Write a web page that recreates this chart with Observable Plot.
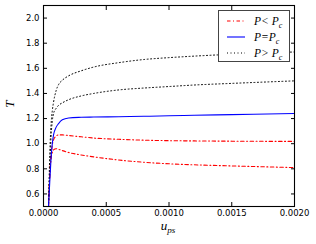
<!DOCTYPE html>
<html>
<head>
<meta charset="utf-8">
<script src="https://cdn.jsdelivr.net/npm/d3@7"></script>
<script src="https://cdn.jsdelivr.net/npm/@observablehq/plot@0.6"></script>
<style>
  html, body { margin: 0; padding: 0; background: #fff; }
  #wrap { position: relative; width: 316px; height: 244px; overflow: hidden; }
  .math { font-family: "Liberation Serif", "DejaVu Serif", serif; font-style: italic; color: #000; }
  #ylab { position: absolute; left: 4px; top: 97px; font-size: 13px; transform: rotate(-90deg); transform-origin: center; width: 12px; text-align: center; line-height: 14px; }
  #xlab { position: absolute; left: 148px; width: 40px; top: 219px; font-size: 13px; text-align: center; line-height: 14px; }
  #xlab sub, .leg sub { font-size: 0.7em; vertical-align: -0.35em; line-height: 0; }
  #legend { position: absolute; left: 218px; top: 10px; width: 70px; height: 50px; border: 1.3px solid #444; background: #fff; box-sizing: content-box; }
  .leg { position: absolute; left: 0; width: 70px; height: 14px; }
  .leg svg { position: absolute; left: 8px; top: 0; }
  .leg span { position: absolute; left: 35px; top: 0; font-size: 11.5px; line-height: 14px; white-space: nowrap; }
</style>
</head>
<body>
<div id="wrap"></div>
<script>
// ---- data ----
const u = [0.00004, 0.00005, 0.00006, 0.00007, 0.00008, 0.0001, 0.00012, 0.00015, 0.0002, 0.0003, 0.0004, 0.0006, 0.0008, 0.001, 0.0012, 0.0015, 0.002];
const T_below_hi = [0.5, 0.75, 0.9, 0.99, 1.03, 1.06, 1.07, 1.07, 1.065, 1.055, 1.045, 1.035, 1.028, 1.024, 1.022, 1.02, 1.018];
const T_below_lo = [0.5, 0.75, 0.88, 0.93, 0.95, 0.96, 0.955, 0.945, 0.93, 0.91, 0.895, 0.87, 0.852, 0.84, 0.832, 0.823, 0.81];
const T_crit     = [0.5, 0.7, 0.88, 1.0, 1.07, 1.13, 1.16, 1.19, 1.205, 1.21, 1.212, 1.215, 1.218, 1.222, 1.226, 1.231, 1.24];
const T_above_lo = [0.5, 0.8, 1.05, 1.18, 1.24, 1.28, 1.305, 1.325, 1.35, 1.38, 1.4, 1.428, 1.443, 1.455, 1.467, 1.48, 1.5];
const T_above_hi = [0.5, 0.92, 1.15, 1.26, 1.33, 1.42, 1.47, 1.505, 1.54, 1.58, 1.61, 1.645, 1.67, 1.685, 1.697, 1.712, 1.73];
const xTicks = [0, 0.0005, 0.001, 0.0015, 0.002];
const yTicks = [0.6, 0.8, 1.0, 1.2, 1.4, 1.6, 1.8, 2.0];

const toRows = (vals) => u.map((x, i) => ({u: x, T: vals[i]}));
const redStyle = {stroke: "#ff0000", strokeWidth: 1.1, strokeDasharray: "3.5,2.5,1,2.5"};
const blkStyle = {stroke: "#000", strokeWidth: 1, strokeDasharray: "1,2.5"};
const bluStyle = {stroke: "#0000ff", strokeWidth: 1.1};
const common = {x: "u", y: "T", curve: "monotone-x", clip: true};

const chart = Plot.plot({
  width: 316,
  height: 244,
  marginLeft: 43,
  marginRight: 22,
  marginTop: 5,
  marginBottom: 38,
  style: {fontFamily: "'DejaVu Sans', sans-serif", fontSize: "8.5px", background: "#fff", color: "#000"},
  x: {domain: [0, 0.002]},
  y: {domain: [0.5, 2.1]},
  marks: [
    Plot.line(toRows(T_below_hi), {...common, ...redStyle}),
    Plot.line(toRows(T_below_lo), {...common, ...redStyle}),
    Plot.line(toRows(T_above_lo), {...common, ...blkStyle}),
    Plot.line(toRows(T_above_hi), {...common, ...blkStyle}),
    Plot.line(toRows(T_crit), {...common, ...bluStyle}),
    Plot.axisY({ticks: yTicks, tickSize: -4, tickPadding: 8, tickFormat: d3.format(".1f"), label: null}),
    Plot.axisY({anchor: "right", ticks: yTicks, tickSize: -4, tickFormat: () => "", label: null}),
    Plot.axisX({ticks: xTicks, tickSize: -4, tickPadding: 7, tickFormat: d3.format(".4f"), label: null}),
    Plot.axisX({anchor: "top", ticks: xTicks, tickSize: -4, tickFormat: () => "", label: null}),
    Plot.frame({stroke: "#000", strokeWidth: 1.1})
  ]
});

const wrap = document.getElementById("wrap");
wrap.appendChild(chart);

const ylab = document.createElement("div");
ylab.id = "ylab"; ylab.className = "math"; ylab.textContent = "T";
wrap.appendChild(ylab);

const xlab = document.createElement("div");
xlab.id = "xlab"; xlab.className = "math"; xlab.innerHTML = "u<sub>ps</sub>";
wrap.appendChild(xlab);

const legendItems = [
  {label: "P&lt; P<sub>c</sub>", stroke: "#ff0000", dash: "3.5,2.5,1,2.5", w: 1.1},
  {label: "P=P<sub>c</sub>", stroke: "#0000ff", dash: null, w: 1.1},
  {label: "P&gt; P<sub>c</sub>", stroke: "#000", dash: "1,2.5", w: 1}
];
const legend = document.createElement("div");
legend.id = "legend";
legendItems.forEach((it, i) => {
  const row = document.createElement("div");
  row.className = "leg";
  row.style.top = (3 + i * 16) + "px";
  row.innerHTML = `<svg width="18" height="14"><line x1="0" x2="18" y1="7" y2="7" stroke="${it.stroke}" stroke-width="${it.w}" ${it.dash ? `stroke-dasharray="${it.dash}"` : ""}/></svg><span class="math">${it.label}</span>`;
  legend.appendChild(row);
});
wrap.appendChild(legend);
</script>
</body>
</html>
